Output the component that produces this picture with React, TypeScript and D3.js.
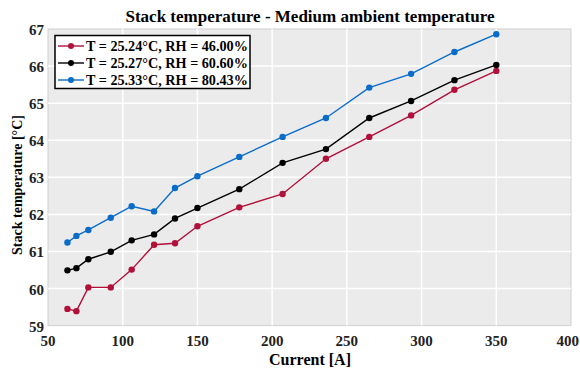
import React from "react";
import * as d3 from "d3";

const current = [63, 69, 77, 92, 106, 121, 135, 150, 178, 207, 236, 265, 293, 322, 350];
const redSeries = [59.45, 59.39, 60.03, 60.03, 60.51, 61.18, 61.22, 61.68, 62.19, 62.55, 63.5, 64.09, 64.67, 65.36, 65.87];
const blackSeries = [60.49, 60.55, 60.79, 60.99, 61.3, 61.46, 61.89, 62.17, 62.68, 63.39, 63.76, 64.6, 65.06, 65.62, 66.03];
const blueSeries = [61.24, 61.42, 61.58, 61.91, 62.22, 62.08, 62.71, 63.03, 63.55, 64.09, 64.6, 65.42, 65.79, 66.38, 66.86];
const seriesLabels = ["T = 25.24°C, RH = 46.00%", "T = 25.27°C, RH = 60.60%", "T = 25.33°C, RH = 80.43%"];
const seriesColors = ["#b0103a", "#000000", "#0a6cc9"];
const xTicks = [50, 100, 150, 200, 250, 300, 350, 400];
const yTicks = [59, 60, 61, 62, 63, 64, 65, 66, 67];

const W = 580;
const H = 372;
const left = 48;
const right = 571;
const top = 29;
const bottom = 325.6;
const font = "'Liberation Serif', 'Times New Roman', serif";

export default function App() {
  const x = d3.scaleLinear().domain([50, 400]).range([left, right]);
  const y = d3.scaleLinear().domain([59, 67]).range([bottom, top]);
  const all = [redSeries, blackSeries, blueSeries];
  const line = d3
    .line<number>()
    .x((_, i) => x(current[i]))
    .y((d) => y(d));

  return (
    <svg
      width={W}
      height={H}
      style={{ position: "absolute", left: 0, top: 0, background: "#fff" }}
      fontFamily={font}
    >
      <rect x={left} y={top} width={right - left} height={bottom - top} fill="#ebebeb" stroke="#cfcfcf" strokeWidth={1} />
      {xTicks.slice(1, -1).map((t) => (
        <line key={"gx" + t} x1={x(t)} x2={x(t)} y1={top} y2={bottom} stroke="#fff" strokeWidth={1.5} />
      ))}
      {yTicks.slice(1, -1).map((t) => (
        <line key={"gy" + t} x1={left} x2={right} y1={y(t)} y2={y(t)} stroke="#fff" strokeWidth={1.5} />
      ))}
      {all.map((s, k) => (
        <g key={"s" + k}>
          <path d={line(s) || ""} fill="none" stroke={seriesColors[k]} strokeWidth={1.4} />
          {s.map((v, i) => (
            <circle key={i} cx={x(current[i])} cy={y(v)} r={3.2} fill={seriesColors[k]} />
          ))}
        </g>
      ))}
      {xTicks.map((t, i) => {
        const last = i === xTicks.length - 1;
        return (
          <text
            key={"xt" + t}
            x={last ? W - 1 : x(t)}
            y={bottom + 20}
            textAnchor={last ? "end" : "middle"}
            fontSize={15}
            fontWeight="bold"
            fill="#222"
          >
            {t}
          </text>
        );
      })}
      {yTicks.map((t) => (
        <text key={"yt" + t} x={left - 4} y={y(t) + 6} textAnchor="end" fontSize={15} fontWeight="bold" fill="#222">
          {t}
        </text>
      ))}
      <text x={310} y={22} textAnchor="middle" fontSize={17} fontWeight="bold" fill="#000">
        Stack temperature - Medium ambient temperature
      </text>
      <text x={310} y={365} textAnchor="middle" fontSize={16} fontWeight="bold" fill="#000">
        Current [A]
      </text>
      <text
        transform={`translate(22, 185) rotate(-90)`}
        textAnchor="middle"
        fontSize={14}
        fontWeight="bold"
        fill="#000"
      >
        Stack temperature [°C]
      </text>
      <g>
        <rect x={55} y={35.5} width={195} height={53} fill="#fff" stroke="#000" strokeWidth={1.5} />
        {seriesLabels.map((lab, k) => {
          const cy = 46 + k * 17;
          return (
            <g key={"lg" + k}>
              <line x1={58} x2={84} y1={cy} y2={cy} stroke={seriesColors[k]} strokeWidth={1.4} />
              <circle cx={71} cy={cy} r={3} fill={seriesColors[k]} />
              <text x={86} y={cy + 5} fontSize={14.2} fontWeight="bold" fill="#000">
                {lab}
              </text>
            </g>
          );
        })}
      </g>
    </svg>
  );
}
